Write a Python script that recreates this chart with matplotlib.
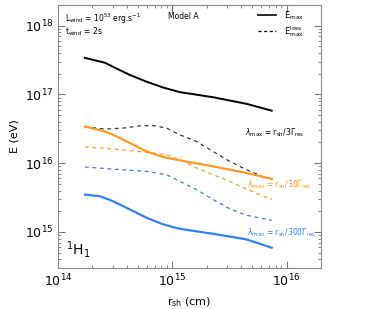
import numpy as np
import matplotlib
matplotlib.use("Agg")
import matplotlib.pyplot as plt

# r_sh (cm) sampling points
r_solid = [1.72e14, 2.57e14, 3.3e14, 4.25e14, 5.95e14, 8.3e14, 1.16e15, 2.27e15, 4.44e15, 7.4e15]
E_black = [3.4e17, 2.89e17, 2.35e17, 1.92e17, 1.53e17, 1.26e17, 1.08e17, 9.1e16, 7.3e16, 5.8e16]
E_orange = [3.41e16, 2.89e16, 2.42e16, 1.96e16, 1.48e16, 1.23e16, 1.10e16, 9.0e15, 7.2e15, 5.9e15]

r_bdash = [1.72e14, 2.57e14, 3.72e14, 5.2e14, 6.8e14, 8.9e14, 1.16e15, 1.63e15, 2.27e15, 3.18e15, 4.44e15, 6.05e15]
E_bdash = [3.38e16, 3.13e16, 3.24e16, 3.49e16, 3.53e16, 3.24e16, 2.59e16, 2.07e16, 1.48e16, 1.06e16, 8.05e15, 6.5e15]

r_dash = [1.72e14, 3.04e14, 5.95e14, 8.9e14, 1.16e15, 1.63e15, 2.27e15, 3.18e15, 4.44e15, 7.4e15]
E_orange_dash = [1.72e16, 1.61e16, 1.44e16, 1.33e16, 1.12e16, 8.5e15, 6.8e15, 5.45e15, 4.2e15, 2.96e15]
E_blue_dash = [8.8e15, 8.2e15, 7.6e15, 6.8e15, 5.45e15, 4.13e15, 2.96e15, 2.17e15, 1.75e15, 1.48e15]

r_blue = [1.72e14, 2.33e14, 3.04e14, 4.25e14, 5.95e14, 8.3e14, 1.16e15, 2.27e15, 4.44e15, 7.4e15]
E_blue = [3.49e15, 3.30e15, 2.79e15, 2.12e15, 1.61e15, 1.29e15, 1.11e15, 9.4e14, 7.8e14, 5.9e14]

ORANGE = '#FF9922'
BLUE = '#2F80FF'

fig = plt.figure(figsize=(3.72, 3.09), dpi=100)
ax = fig.add_axes([0.156, 0.133, 0.707, 0.851])

ax.plot(r_solid, E_black, color='black', lw=1.4, solid_joinstyle='round')
ax.plot(r_bdash, E_bdash, color='#333333', lw=0.9, ls=(0, (3, 3)))
ax.plot(r_dash, E_orange_dash, color=ORANGE, lw=0.9, ls=(0, (3, 3)))
ax.plot(r_solid, E_orange, color=ORANGE, lw=1.6, solid_joinstyle='round')
ax.plot(r_dash, E_blue_dash, color=BLUE, lw=0.9, ls=(0, (3, 3)))
ax.plot(r_blue, E_blue, color=BLUE, lw=1.6, solid_joinstyle='round')

ax.set_xscale('log')
ax.set_yscale('log')
ax.set_xlim(1e14, 2e16)
ax.set_ylim(3e14, 2e18)

ax.tick_params(which='both', direction='in', top=True, right=True, labelsize=9, colors='#777777', labelcolor='black')
ax.tick_params(which='major', length=5)
ax.tick_params(which='minor', length=2.5)
for s in ax.spines.values():
    s.set_color('#888888')
    s.set_linewidth(0.8)

ax.set_xlabel(r'r$_{\rm sh}$ (cm)', fontsize=8)
ax.set_ylabel('E (eV)', fontsize=8)

ax.text(0.025, 0.975, r'L$_{\rm wind}$ = 10$^{53}$ erg.s$^{-1}$', transform=ax.transAxes, fontsize=5.5, va='top')
ax.text(0.025, 0.92, r't$_{\rm wind}$ = 2s', transform=ax.transAxes, fontsize=5.5, va='top')
ax.text(0.42, 0.975, 'Model A', transform=ax.transAxes, fontsize=5.5, va='top')

# legend
ax.plot([0.76, 0.83], [0.96, 0.96], transform=ax.transAxes, color='black', lw=1.2)
ax.plot([0.76, 0.83], [0.90, 0.90], transform=ax.transAxes, color='black', lw=0.9, ls=(0, (2.5, 2)))
ax.text(0.86, 0.96, r'E$_{\rm max}$', transform=ax.transAxes, fontsize=6, va='center')
ax.text(0.86, 0.90, r'E$_{\rm max}^{\rm loss}$', transform=ax.transAxes, fontsize=6, va='center')

ax.text(0.71, 0.505, r'$\lambda_{\rm max}$ = r$_{\rm sh}$/3$\Gamma_{\rm res}$', transform=ax.transAxes, fontsize=5.5, color='black')
ax.text(0.72, 0.305, r'$\lambda_{\rm max}$ = r$_{\rm sh}$/30$\Gamma_{\rm res}$', transform=ax.transAxes, fontsize=5.5, color=ORANGE)
ax.text(0.72, 0.125, r'$\lambda_{\rm max}$ = r$_{\rm sh}$/300$\Gamma_{\rm res}$', transform=ax.transAxes, fontsize=5.5, color=BLUE)

ax.text(0.03, 0.05, r'$^1$H$_1$', transform=ax.transAxes, fontsize=10)

fig.savefig('out.png', dpi=100)
